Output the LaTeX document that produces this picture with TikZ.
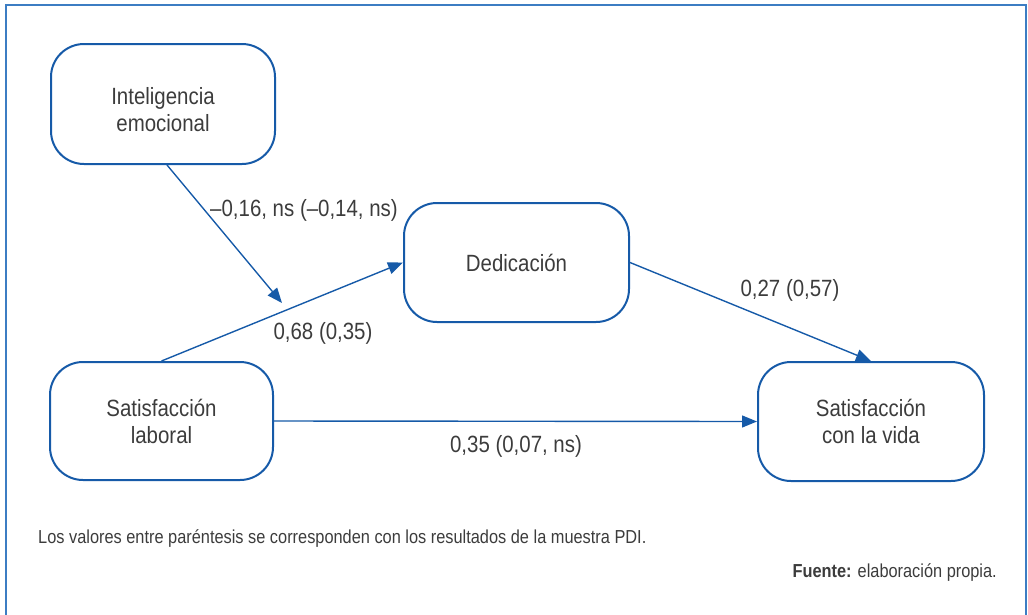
\documentclass[tikz,border=0pt]{standalone}
\usepackage{fontspec}
\setmainfont{Liberation Sans}[FakeStretch=0.87]
\usetikzlibrary{arrows.meta,calc}
\definecolor{boxblue}{RGB}{22,90,168}
\definecolor{frameblue}{RGB}{60,125,195}
\definecolor{txt}{RGB}{60,60,60}
\tikzset{
  var/.style={draw=boxblue,line width=2pt,rounded corners=33pt,align=center,
    text=txt,font=\fontsize{23.5}{27}\selectfont,inner sep=0pt},
  arr/.style={draw=boxblue,line width=1.4pt,-{Triangle[length=15pt,width=12pt]}},
  lbl/.style={text=txt,font=\fontsize{23.5}{27}\selectfont,inner sep=0pt},
  note/.style={text=txt,font=\fontsize{18.8}{20}\selectfont,inner sep=0pt}
}
\begin{document}
\begin{tikzpicture}[x=1pt,y=-1pt]
\useasboundingbox (0,0) rectangle (1028,614);
\draw[frameblue,line width=2pt] (6,616) -- (6,5) -- (1026,5) -- (1026,616);
\node[var,minimum width=224pt,minimum height=120pt] (ie) at (163,104) {\rule{0pt}{28pt}Inteligencia\\emocional};
\node[var,minimum width=225pt,minimum height=119pt] (ded) at (516.5,262.5) {Dedicación};
\node[var,minimum width=223pt,minimum height=118pt] (sl) at (161.5,421) {Satisfacción\\laboral};
\node[var,minimum width=226pt,minimum height=119pt] (scv) at (871,421.5) {Satisfacción\\con la vida};
\coordinate (tip) at (282,303);
\draw[arr] ([xshift=4pt]ie.south) -- (tip);
\draw[arr] (sl.north) -- (ded.west);
\draw[arr] (ded.east) -- (scv.north);
\draw[arr] (sl.east) -- (scv.west);
\node[lbl] (l1) at (304,210) {–0,16, ns (–0,14, ns)};
\node[lbl] (l2) at (323,333) {0,68 (0,35)};
\node[lbl] (l3) at (790,290) {0,27 (0,57)};
\node[lbl] (l4) at (516,446) {0,35 (0,07, ns)};
\node[note,anchor=base west] (n1) at (38,543) {Los valores entre paréntesis se corresponden con los resultados de la muestra PDI.};
\node[note,anchor=base east] (n2) at (997,577) {\textbf{Fuente:} elaboración propia.};
\end{tikzpicture}
\end{document}
